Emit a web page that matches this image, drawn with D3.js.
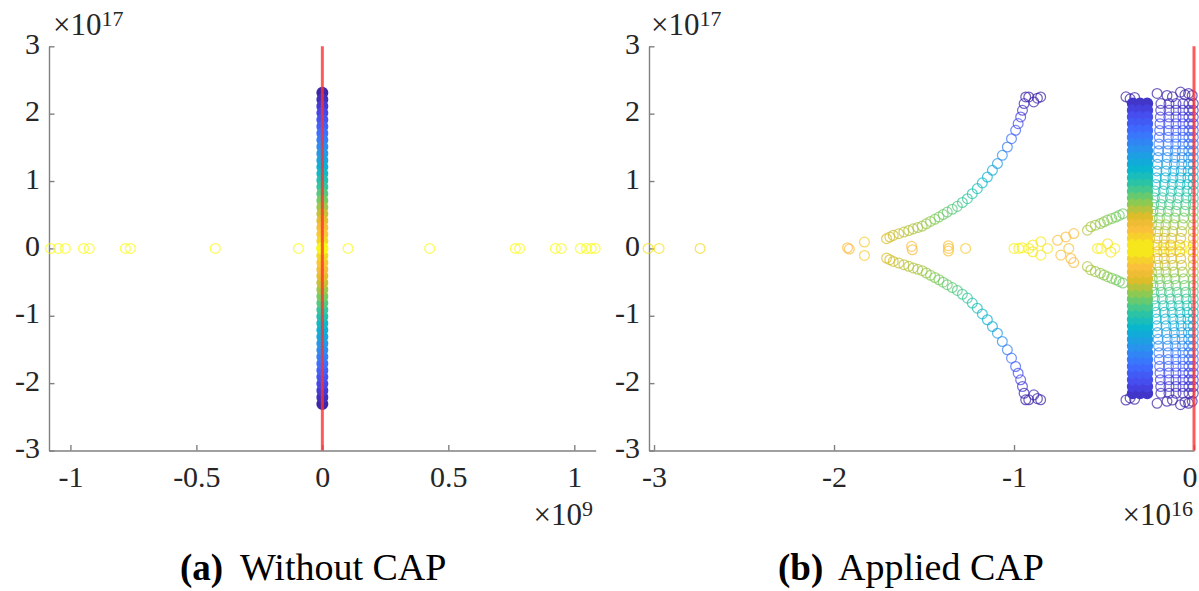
<!DOCTYPE html>
<html>
<head>
<meta charset="utf-8">
<script src="https://cdn.jsdelivr.net/npm/d3@7"></script>
<style>
body { margin: 0; background: #fff; }
svg { display: block; }
</style>
</head>
<body>
<svg id="fig" width="1199" height="591"></svg>
<script>
// (a) without CAP: re in 1e9, im in 1e17
const realA = [-1.079, -1.048, -1.020, -0.948, -0.925, -0.782, -0.762, -0.425, -0.095,
               0.102, 0.426, 0.766, 0.783, 0.925, 0.948, 1.024, 1.048, 1.067, 1.083]
// dense column at re ~ 0 (upper half, conjugates drawn too)
const barA = [2.31, 2.21, 2.11, 2.01, 1.91, 1.81, 1.71, 1.61, 1.51, 1.41, 1.31, 1.21,
              1.11, 1.01, 0.91, 0.81, 0.71, 0.61, 0.51, 0.41, 0.31, 0.21, 0.11, 0.01]
const ticksAx = [-1, -0.5, 0, 0.5, 1]
const ticksY = [-3, -2, -1, 0, 1, 2, 3]

// (b) applied CAP: re in 1e16, im in 1e17
// points on / near the real axis: [re, im, colour index]
const axisB = [
    [-3.033, 0, 0.93], [-2.972, 0, 0.93], [-2.744, 0, 0.9],
    [-1.925, 0.01, 0.8], [-1.915, -0.01, 0.8], [-1.831, 0.094, 0.85], [-1.831, -0.104, 0.85],
    [-1.569, 0.03, 0.8], [-1.565, -0.02, 0.8], [-1.365, 0.04, 0.82], [-1.363, 0, 0.82],
    [-1.365, -0.04, 0.82], [-1.269, 0, 0.85],
    [-1.0, 0, 0.97], [-0.974, 0, 0.97], [-0.955, 0.01, 0.97], [-0.918, 0, 0.97],
    [-0.896, 0.05, 0.95], [-0.896, -0.05, 0.95], [-0.851, 0.1, 0.95], [-0.851, -0.1, 0.95],
    [-0.814, 0, 0.95],
    [-0.758, 0.12, 0.82], [-0.74, -0.10, 0.82], [-0.712, 0.17, 0.8], [-0.696, 0, 0.82],
    [-0.684, -0.15, 0.8], [-0.668, 0.22, 0.8], [-0.668, -0.21, 0.8],
    [-0.536, 0, 0.95], [-0.518, 0, 0.97], [-0.48, 0.07, 0.93], [-0.462, -0.055, 0.93], [-0.44, 0, 0.97],
    [-0.22, 0.02, 1], [-0.19, -0.02, 1], [-0.16, 0, 1], [-0.13, 0.03, 1], [-0.1, -0.02, 1],
    [-0.07, 0, 1], [-0.045, 0.03, 1], [-0.02, -0.02, 1]
]
// long curved branch (upper half)
const armB = [
    [-1.708, 0.144], [-1.690, 0.168], [-1.671, 0.193], [-1.640, 0.218], [-1.612, 0.242],
    [-1.585, 0.266], [-1.560, 0.290], [-1.535, 0.310], [-1.510, 0.331], [-1.487, 0.365],
    [-1.464, 0.400], [-1.440, 0.432], [-1.417, 0.465], [-1.394, 0.502], [-1.371, 0.539],
    [-1.343, 0.581], [-1.315, 0.624], [-1.287, 0.681], [-1.259, 0.738], [-1.232, 0.812],
    [-1.204, 0.887], [-1.176, 0.973], [-1.148, 1.059], [-1.120, 1.159], [-1.092, 1.259],
    [-1.065, 1.382], [-1.037, 1.505], [-1.014, 1.629], [-0.991, 1.753], [-0.977, 1.852],
    [-0.963, 1.951], [-0.953, 2.050], [-0.944, 2.150], [-0.935, 2.248], [-0.918, 2.248],
    [-0.890, 2.174], [-0.870, 2.230], [-0.852, 2.248]
]
// short branch joining the dense band
const spurB = [
    [-0.592, 0.27], [-0.573, 0.32], [-0.548, 0.345], [-0.52, 0.37], [-0.50, 0.395],
    [-0.48, 0.42], [-0.457, 0.443], [-0.434, 0.465], [-0.415, 0.49], [-0.395, 0.515]
]
// dense band
const bandRe = [-0.34, -0.30, -0.26]
const bandIm = [2.15, 2.05, 1.95, 1.85, 1.75, 1.65, 1.55, 1.45, 1.35, 1.25, 1.15, 1.05,
                0.95, 0.85, 0.75, 0.65, 0.55, 0.45, 0.35, 0.25, 0.15, 0.05]
// fan of strands between band and the imaginary axis
const fanIm = [2.15, 2.05, 1.95, 1.85, 1.75, 1.65, 1.55, 1.45, 1.35, 1.25, 1.15, 1.05,
               0.95, 0.85, 0.75, 0.65, 0.55, 0.45, 0.35, 0.25, 0.15, 0.05]
const fanRe = [
    [-0.184, -0.185, -0.187, -0.189, -0.191, -0.193, -0.195, -0.197, -0.200, -0.203, -0.206,
     -0.209, -0.212, -0.216, -0.220, -0.224, -0.228, -0.232, -0.236, -0.241, -0.246, -0.251],
    [-0.139, -0.139, -0.140, -0.141, -0.142, -0.143, -0.144, -0.146, -0.149, -0.152, -0.156,
     -0.160, -0.165, -0.170, -0.176, -0.182, -0.187, -0.192, -0.197, -0.201, -0.204, -0.207],
    [-0.100, -0.100, -0.100, -0.100, -0.100, -0.100, -0.101, -0.103, -0.106, -0.109, -0.113,
     -0.117, -0.121, -0.126, -0.131, -0.137, -0.143, -0.150, -0.156, -0.161, -0.165, -0.168],
    [-0.061, -0.061, -0.061, -0.061, -0.061, -0.061, -0.062, -0.064, -0.066, -0.068, -0.071,
     -0.074, -0.078, -0.083, -0.088, -0.094, -0.100, -0.106, -0.112, -0.118, -0.124, -0.129],
    [-0.028, -0.028, -0.028, -0.028, -0.028, -0.028, -0.029, -0.029, -0.030, -0.031, -0.032,
     -0.034, -0.036, -0.039, -0.043, -0.047, -0.052, -0.058, -0.064, -0.069, -0.074, -0.079],
    [-0.004, -0.004, -0.004, -0.004, -0.004, -0.004, -0.004, -0.004, -0.004, -0.004, -0.004,
     -0.004, -0.004, -0.004, -0.004, -0.004, -0.004, -0.004, -0.004, -0.004, -0.004, -0.004]
]
// row of points at the top of the band and fan
const topRowB = [
    [-0.378, 2.25], [-0.355, 2.22], [-0.33, 2.24], [-0.205, 2.30], [-0.15, 2.27],
    [-0.12, 2.25], [-0.075, 2.32], [-0.05, 2.28], [-0.03, 2.30], [-0.01, 2.27]
]
const ticksBx = [-3, -2, -1, 0]

const svg = d3.select("#fig")
const font = '"Liberation Serif", "Times New Roman", serif'

const yS = d3.scaleLinear().domain([-3, 3]).range([450.5, 46.3])
const xA = d3.scaleLinear().domain([-1.085, 1.085]).range([49, 595.7])
const xB = d3.scaleLinear().domain([-3.028, 0]).range([649, 1194])

const parula = d3.scaleLinear()
    .domain([0, .1, .2, .3, .4, .5, .6, .7, .8, .9, 1])
    .range(["#3e26a8", "#4747eb", "#3e6fff", "#2796eb", "#08b5d0", "#31c69f",
            "#81cc59", "#dcbd29", "#fcbd3e", "#f3d824", "#f9fb15"])
    .clamp(true)

const toneBand = im => 1 - Math.pow(Math.min(Math.abs(im) / 2.3, 1), 0.75)
const toneBranch = im => Math.max(0, 0.75 - 0.34 * Math.abs(im))

// eigenvalues come in conjugate pairs
const withConj = pts => pts.flatMap(([re, im]) => im > 0.005 ? [[re, im], [re, -im]] : [[re, im]])

const drawAxes = (x, xticks, left) => {
    let gx = svg.append("g")
        .attr("transform", "translate(0," + yS(-3) + ")")
        .call(d3.axisBottom(x).tickValues(xticks).tickFormat(d => String(d))
            .tickSizeInner(-5.5).tickSizeOuter(0).tickPadding(15))
    let gy = svg.append("g")
        .attr("transform", "translate(" + left + ",0)")
        .call(d3.axisLeft(yS).tickValues(ticksY).tickFormat(d => String(d))
            .tickSizeInner(-5.5).tickSizeOuter(0).tickPadding(9))
    ;[gx, gy].forEach(g => {
        g.attr("font-family", font).attr("font-size", 30)
        g.selectAll(".domain, .tick line").attr("stroke", "#808080").attr("stroke-width", 1.4)
        g.selectAll("text").attr("fill", "#262626")
    })
    gy.selectAll("text").attr("dy", "0.24em")
    return gx
}

const expLabel = (x, y, exp, anchor) => {
    let t = svg.append("text").attr("x", x).attr("y", y)
        .attr("text-anchor", anchor).attr("font-family", font)
        .attr("font-size", 31).attr("fill", "#262626")
    t.append("tspan").text("×10")
    t.append("tspan").attr("dy", -9).attr("font-size", 22).text(exp)
}

const rings = (x, data, colour) => svg.append("g").selectAll("circle")
    .data(data).enter().append("circle")
    .attr("cx", d => x(d[0])).attr("cy", d => yS(d[1])).attr("r", 4.9)
    .attr("fill", "none").attr("stroke", colour)
    .attr("stroke-width", 1.25).attr("stroke-opacity", 0.72)

const dense = (x, data) => svg.append("g").selectAll("circle")
    .data(data).enter().append("circle")
    .attr("cx", d => x(d[0])).attr("cy", d => yS(d[1])).attr("r", 5)
    .attr("fill", d => parula(toneBand(d[1]))).attr("stroke", d => parula(toneBand(d[1])))
    .attr("stroke-width", 2)

const redAxis = x => svg.append("line")
    .attr("x1", x(0)).attr("x2", x(0)).attr("y1", yS(3)).attr("y2", yS(-3))
    .attr("stroke", "#ff3030").attr("stroke-width", 3).attr("stroke-opacity", 0.8)

// panel (a)
drawAxes(xA, ticksAx, 49)
rings(xA, realA.map(re => [re, 0]), parula(1))
dense(xA, withConj(barA.map(im => [0, im])))
redAxis(xA)
expLabel(53, 35, "17", "start")
expLabel(593, 525, "9", "end")

// panel (b)
let gxB = drawAxes(xB, ticksBx, 649)
// last tick label sits on the window edge: keep it inside
gxB.selectAll(".tick text").filter(d => d === 0).attr("text-anchor", "end").attr("dx", 3)
rings(xB, withConj(armB), d => parula(toneBranch(d[1])))
rings(xB, withConj(spurB), d => parula(toneBranch(d[1])))
rings(xB, axisB, d => parula(d[2]))
fanRe.forEach(row => rings(xB, withConj(fanIm.map((im, i) => [row[i], im])), d => parula(toneBranch(d[1]))))
rings(xB, withConj(topRowB), d => parula(toneBranch(d[1])))
dense(xB, withConj(bandRe.flatMap(re => bandIm.map(im => [re, im]))))
redAxis(xB)
expLabel(651, 35, "17", "start")
expLabel(1193, 525, "16", "end")

// captions
const caption = (x0, x1, tag, txt) => {
    svg.append("text").attr("x", x0).attr("y", 580).attr("font-family", font)
        .attr("font-size", 37).attr("font-weight", "bold").attr("fill", "#000").text(tag)
    svg.append("text").attr("x", x1).attr("y", 580).attr("font-family", font)
        .attr("font-size", 38).attr("fill", "#000").text(txt)
}
caption(180, 240, "(a)", "Without CAP")
caption(778, 838, "(b)", "Applied CAP")
</script>
</body>
</html>
